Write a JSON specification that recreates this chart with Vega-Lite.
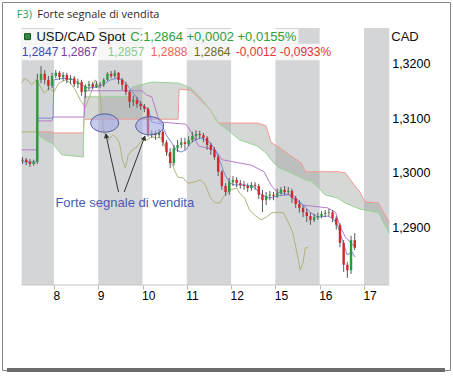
{
  "$schema": "https://vega.github.io/schema/vega-lite/v6.json",
  "width": 448,
  "height": 368,
  "autosize": {"type": "none"},
  "padding": {"left": 2, "top": 2, "right": 3, "bottom": 6},
  "background": "white",
  "config": {
    "view": {"stroke": "#858585", "strokeWidth": 1}
  },
  "datasets": {
    "bands": [
      {"h": -17.5, "h2": 0, "p": 1.2796, "p2": 1.3266},
      {"h": 24, "h2": 48, "p": 1.2796, "p2": 1.3266},
      {"h": 72, "h2": 96, "p": 1.2796, "p2": 1.3266},
      {"h": 120, "h2": 144, "p": 1.2796, "p2": 1.3266},
      {"h": 168, "h2": 181.7, "p": 1.2796, "p2": 1.3266}
    ],
    "legbg": [
      {"h": -17.5, "h2": 132.5, "p": 1.3237, "p2": 1.3264},
      {"h": -17.5, "h2": 154.7, "p": 1.3207, "p2": 1.3237}
    ],
    "baseline": [{"h": -17.5, "h2": 181.7, "p": 1.2796}],
    "frameb": [{"h": -25.43, "h2": 211.92, "p": 1.26406}],
    "ylabels": [
      {"h": 183.3, "p": 1.32, "txt": "1,3200"},
      {"h": 183.3, "p": 1.31, "txt": "1,3100"},
      {"h": 183.3, "p": 1.30, "txt": "1,3000"},
      {"h": 183.3, "p": 1.29, "txt": "1,2900"}
    ],
    "cloud": [
      {"h": -17.5, "a": 1.3076, "b": 1.3076},
      {"h": -9.0, "a": 1.3076, "b": 1.3076},
      {"h": -7.4, "a": 1.3067, "b": 1.3076},
      {"h": -2.6, "a": 1.3057, "b": 1.3076},
      {"h": -1.1, "a": 1.3055, "b": 1.3076},
      {"h": -0.5, "a": 1.3054, "b": 1.3074},
      {"h": 4.2, "a": 1.3034, "b": 1.3074},
      {"h": 15.9, "a": 1.3030, "b": 1.3074},
      {"h": 16.4, "a": 1.3140, "b": 1.3099},
      {"h": 21.2, "a": 1.3140, "b": 1.3099},
      {"h": 41.3, "a": 1.3140, "b": 1.3099},
      {"h": 42.4, "a": 1.3158, "b": 1.3099},
      {"h": 53.0, "a": 1.3167, "b": 1.3099},
      {"h": 67.3, "a": 1.3165, "b": 1.3099},
      {"h": 67.8, "a": 1.3165, "b": 1.3154},
      {"h": 74.2, "a": 1.3156, "b": 1.3152},
      {"h": 79.5, "a": 1.3138, "b": 1.3134},
      {"h": 84.8, "a": 1.3116, "b": 1.3116},
      {"h": 89.0, "a": 1.3092, "b": 1.3092},
      {"h": 95.4, "a": 1.3076, "b": 1.3092},
      {"h": 100.7, "a": 1.3061, "b": 1.3092},
      {"h": 110.2, "a": 1.3050, "b": 1.3092},
      {"h": 115.0, "a": 1.3037, "b": 1.3087},
      {"h": 117.6, "a": 1.3025, "b": 1.3057},
      {"h": 121.9, "a": 1.3010, "b": 1.3048},
      {"h": 127.2, "a": 1.3003, "b": 1.3035},
      {"h": 134.0, "a": 1.2992, "b": 1.3019},
      {"h": 136.2, "a": 1.2988, "b": 1.3003},
      {"h": 139.3, "a": 1.2986, "b": 1.3003},
      {"h": 143.1, "a": 1.2975, "b": 1.3003},
      {"h": 146.8, "a": 1.2961, "b": 1.3003},
      {"h": 153.6, "a": 1.2955, "b": 1.3003},
      {"h": 157.9, "a": 1.2946, "b": 1.3001},
      {"h": 162.7, "a": 1.2939, "b": 1.2979},
      {"h": 165.8, "a": 1.2935, "b": 1.2966},
      {"h": 168.5, "a": 1.2933, "b": 1.2948},
      {"h": 175.9, "a": 1.2928, "b": 1.2946},
      {"h": 181.7, "a": 1.2890, "b": 1.2910}
    ],
    "kijun": [
      {"h": -17.5, "p": 1.3043}, {"h": -9.5, "p": 1.3043}, {"h": -9.0, "p": 1.3096},
      {"h": -1.1, "p": 1.3096}, {"h": -0.5, "p": 1.3103}, {"h": 16.4, "p": 1.3103},
      {"h": 17.0, "p": 1.3151}, {"h": 47.7, "p": 1.3151}, {"h": 50.3, "p": 1.3143},
      {"h": 53.0, "p": 1.3140}, {"h": 57.2, "p": 1.3094}, {"h": 71.5, "p": 1.3090},
      {"h": 73.1, "p": 1.3083}, {"h": 78.4, "p": 1.3050}, {"h": 87.4, "p": 1.3043},
      {"h": 91.1, "p": 1.3025}, {"h": 107.0, "p": 1.3015}, {"h": 113.9, "p": 1.3003},
      {"h": 117.6, "p": 1.2979}, {"h": 120.8, "p": 1.2966}, {"h": 129.8, "p": 1.2959},
      {"h": 135.1, "p": 1.2942}, {"h": 148.3, "p": 1.2937}, {"h": 152.6, "p": 1.2929},
      {"h": 154.7, "p": 1.2906}, {"h": 157.9, "p": 1.2884}, {"h": 162.6, "p": 1.2867}
    ],
    "tenkan": [
      {"h": -17.5, "p": 1.3021}, {"h": -9.5, "p": 1.3021}, {"h": -9.0, "p": 1.3101},
      {"h": -0.5, "p": 1.3101}, {"h": 0, "p": 1.3171}, {"h": 5.3, "p": 1.3174},
      {"h": 10.6, "p": 1.3171}, {"h": 14.8, "p": 1.3162}, {"h": 18.5, "p": 1.3156},
      {"h": 23.8, "p": 1.3158}, {"h": 26.5, "p": 1.3162}, {"h": 30.7, "p": 1.3171},
      {"h": 34.4, "p": 1.3174}, {"h": 37.1, "p": 1.3171}, {"h": 39.7, "p": 1.3162},
      {"h": 42.4, "p": 1.3149}, {"h": 45.0, "p": 1.3138}, {"h": 47.7, "p": 1.3125},
      {"h": 51.4, "p": 1.3116}, {"h": 53.0, "p": 1.3094}, {"h": 58.3, "p": 1.3090},
      {"h": 60.9, "p": 1.3070}, {"h": 63.6, "p": 1.3057}, {"h": 66.2, "p": 1.3043},
      {"h": 68.9, "p": 1.3039}, {"h": 71.5, "p": 1.3043}, {"h": 74.2, "p": 1.3056},
      {"h": 76.8, "p": 1.3061}, {"h": 79.5, "p": 1.3065}, {"h": 82.1, "p": 1.3061},
      {"h": 84.8, "p": 1.3056}, {"h": 87.4, "p": 1.3043}, {"h": 90.1, "p": 1.3021},
      {"h": 92.7, "p": 1.2997}, {"h": 95.4, "p": 1.2982}, {"h": 98.0, "p": 1.2979},
      {"h": 103.3, "p": 1.2979}, {"h": 108.6, "p": 1.2975}, {"h": 112.3, "p": 1.2961},
      {"h": 116.6, "p": 1.2955}, {"h": 121.9, "p": 1.2959}, {"h": 127.2, "p": 1.2961},
      {"h": 130.9, "p": 1.2951}, {"h": 135.1, "p": 1.2942}, {"h": 138.8, "p": 1.2929},
      {"h": 143.0, "p": 1.2920}, {"h": 148.3, "p": 1.2922}, {"h": 151.0, "p": 1.2918},
      {"h": 153.6, "p": 1.2906}, {"h": 156.3, "p": 1.2878}, {"h": 158.9, "p": 1.2851},
      {"h": 161.6, "p": 1.2856}, {"h": 163.2, "p": 1.2847}
    ],
    "chikou": [
      {"h": -17.5, "p": 1.3165}, {"h": -15.9, "p": 1.3174}, {"h": -13.2, "p": 1.3167},
      {"h": -12.2, "p": 1.3162}, {"h": -9.5, "p": 1.3171}, {"h": -7.9, "p": 1.3162},
      {"h": -5.3, "p": 1.3147}, {"h": -2.6, "p": 1.3156}, {"h": 0, "p": 1.3149},
      {"h": 2.6, "p": 1.3165}, {"h": 6.4, "p": 1.3171}, {"h": 9.0, "p": 1.3165},
      {"h": 11.7, "p": 1.3152}, {"h": 14.3, "p": 1.3134}, {"h": 17.0, "p": 1.3120},
      {"h": 18.5, "p": 1.3134}, {"h": 20.1, "p": 1.3147}, {"h": 22.3, "p": 1.3171},
      {"h": 23.8, "p": 1.3162}, {"h": 24.9, "p": 1.3147}, {"h": 26.0, "p": 1.3107},
      {"h": 27.0, "p": 1.3076}, {"h": 29.7, "p": 1.3061}, {"h": 31.8, "p": 1.3070},
      {"h": 33.4, "p": 1.3067}, {"h": 35.5, "p": 1.3056}, {"h": 37.1, "p": 1.3025},
      {"h": 38.7, "p": 1.3010}, {"h": 40.3, "p": 1.3034}, {"h": 42.4, "p": 1.3043},
      {"h": 45.0, "p": 1.3048}, {"h": 47.7, "p": 1.3061}, {"h": 50.3, "p": 1.3061},
      {"h": 53.0, "p": 1.3067}, {"h": 55.6, "p": 1.3065}, {"h": 58.3, "p": 1.3065},
      {"h": 60.9, "p": 1.3043}, {"h": 63.6, "p": 1.3021}, {"h": 65.7, "p": 1.3003},
      {"h": 67.3, "p": 1.2993}, {"h": 69.9, "p": 1.2992}, {"h": 72.6, "p": 1.2982},
      {"h": 75.8, "p": 1.2984}, {"h": 79.5, "p": 1.2988}, {"h": 82.1, "p": 1.2979},
      {"h": 84.8, "p": 1.2955}, {"h": 87.4, "p": 1.2946}, {"h": 90.1, "p": 1.2946},
      {"h": 91.7, "p": 1.2957}, {"h": 95.4, "p": 1.2970}, {"h": 99.1, "p": 1.2973},
      {"h": 100.7, "p": 1.2964}, {"h": 103.3, "p": 1.2955}, {"h": 106.0, "p": 1.2933},
      {"h": 108.6, "p": 1.2924}, {"h": 112.3, "p": 1.2915}, {"h": 115.0, "p": 1.2920},
      {"h": 118.1, "p": 1.2928}, {"h": 121.9, "p": 1.2929}, {"h": 124.5, "p": 1.2928},
      {"h": 127.2, "p": 1.2909}, {"h": 129.3, "p": 1.2893}, {"h": 131.4, "p": 1.2860},
      {"h": 133.5, "p": 1.2823}, {"h": 135.1, "p": 1.2838}, {"h": 136.2, "p": 1.2864},
      {"h": 137.7, "p": 1.2864}
    ],
    "candles": [
      {"h": -17, "o": 1.3023, "c": 1.3025, "hi": 1.3030, "lo": 1.3017},
      {"h": -15, "o": 1.3025, "c": 1.3021, "hi": 1.3028, "lo": 1.3015},
      {"h": -13, "o": 1.3021, "c": 1.3017, "hi": 1.3026, "lo": 1.3012},
      {"h": -11, "o": 1.3017, "c": 1.3021, "hi": 1.3025, "lo": 1.3014},
      {"h": -9, "o": 1.3021, "c": 1.3171, "hi": 1.3182, "lo": 1.3017},
      {"h": -7, "o": 1.3171, "c": 1.3182, "hi": 1.3196, "lo": 1.3165},
      {"h": -5, "o": 1.3182, "c": 1.3171, "hi": 1.3189, "lo": 1.3163},
      {"h": -3, "o": 1.3171, "c": 1.3160, "hi": 1.3178, "lo": 1.3152},
      {"h": -1, "o": 1.3160, "c": 1.3178, "hi": 1.3184, "lo": 1.3156},
      {"h": 1, "o": 1.3178, "c": 1.3184, "hi": 1.3189, "lo": 1.3174},
      {"h": 3, "o": 1.3184, "c": 1.3176, "hi": 1.3187, "lo": 1.3171},
      {"h": 5, "o": 1.3176, "c": 1.3180, "hi": 1.3185, "lo": 1.3169},
      {"h": 7, "o": 1.3180, "c": 1.3171, "hi": 1.3184, "lo": 1.3165},
      {"h": 9, "o": 1.3171, "c": 1.3174, "hi": 1.3180, "lo": 1.3163},
      {"h": 11, "o": 1.3174, "c": 1.3163, "hi": 1.3178, "lo": 1.3158},
      {"h": 13, "o": 1.3163, "c": 1.3167, "hi": 1.3173, "lo": 1.3156},
      {"h": 15, "o": 1.3167, "c": 1.3149, "hi": 1.3171, "lo": 1.3142},
      {"h": 17, "o": 1.3149, "c": 1.3160, "hi": 1.3163, "lo": 1.3138},
      {"h": 19, "o": 1.3160, "c": 1.3163, "hi": 1.3169, "lo": 1.3152},
      {"h": 21, "o": 1.3163, "c": 1.3158, "hi": 1.3167, "lo": 1.3154},
      {"h": 23, "o": 1.3158, "c": 1.3163, "hi": 1.3169, "lo": 1.3156},
      {"h": 25, "o": 1.3163, "c": 1.3162, "hi": 1.3167, "lo": 1.3156},
      {"h": 27, "o": 1.3162, "c": 1.3171, "hi": 1.3174, "lo": 1.3158},
      {"h": 29, "o": 1.3171, "c": 1.3182, "hi": 1.3185, "lo": 1.3169},
      {"h": 31, "o": 1.3182, "c": 1.3178, "hi": 1.3187, "lo": 1.3174},
      {"h": 33, "o": 1.3178, "c": 1.3184, "hi": 1.3189, "lo": 1.3174},
      {"h": 35, "o": 1.3184, "c": 1.3171, "hi": 1.3185, "lo": 1.3163},
      {"h": 37, "o": 1.3171, "c": 1.3162, "hi": 1.3174, "lo": 1.3152},
      {"h": 39, "o": 1.3162, "c": 1.3149, "hi": 1.3167, "lo": 1.3143},
      {"h": 41, "o": 1.3149, "c": 1.3131, "hi": 1.3152, "lo": 1.3120},
      {"h": 43, "o": 1.3131, "c": 1.3134, "hi": 1.3142, "lo": 1.3123},
      {"h": 45, "o": 1.3134, "c": 1.3127, "hi": 1.3140, "lo": 1.3120},
      {"h": 47, "o": 1.3127, "c": 1.3123, "hi": 1.3132, "lo": 1.3116},
      {"h": 49, "o": 1.3123, "c": 1.3118, "hi": 1.3127, "lo": 1.3112},
      {"h": 51, "o": 1.3118, "c": 1.3072, "hi": 1.3121, "lo": 1.3067},
      {"h": 53, "o": 1.3072, "c": 1.3074, "hi": 1.3079, "lo": 1.3065},
      {"h": 55, "o": 1.3074, "c": 1.3070, "hi": 1.3078, "lo": 1.3061},
      {"h": 57, "o": 1.3070, "c": 1.3076, "hi": 1.3081, "lo": 1.3065},
      {"h": 59, "o": 1.3076, "c": 1.3057, "hi": 1.3079, "lo": 1.3050},
      {"h": 61, "o": 1.3057, "c": 1.3039, "hi": 1.3061, "lo": 1.3032},
      {"h": 63, "o": 1.3039, "c": 1.3019, "hi": 1.3046, "lo": 1.3010},
      {"h": 65, "o": 1.3019, "c": 1.3046, "hi": 1.3052, "lo": 1.3014},
      {"h": 67, "o": 1.3046, "c": 1.3052, "hi": 1.3061, "lo": 1.3039},
      {"h": 69, "o": 1.3052, "c": 1.3057, "hi": 1.3065, "lo": 1.3046},
      {"h": 71, "o": 1.3057, "c": 1.3054, "hi": 1.3065, "lo": 1.3043},
      {"h": 73, "o": 1.3054, "c": 1.3061, "hi": 1.3068, "lo": 1.3050},
      {"h": 75, "o": 1.3061, "c": 1.3068, "hi": 1.3076, "lo": 1.3057},
      {"h": 77, "o": 1.3068, "c": 1.3072, "hi": 1.3079, "lo": 1.3061},
      {"h": 79, "o": 1.3072, "c": 1.3070, "hi": 1.3078, "lo": 1.3063},
      {"h": 81, "o": 1.3070, "c": 1.3065, "hi": 1.3074, "lo": 1.3057},
      {"h": 83, "o": 1.3065, "c": 1.3052, "hi": 1.3068, "lo": 1.3043},
      {"h": 85, "o": 1.3052, "c": 1.3043, "hi": 1.3056, "lo": 1.3034},
      {"h": 87, "o": 1.3043, "c": 1.3030, "hi": 1.3048, "lo": 1.3025},
      {"h": 89, "o": 1.3030, "c": 1.3003, "hi": 1.3034, "lo": 1.2995},
      {"h": 91, "o": 1.3003, "c": 1.2977, "hi": 1.3006, "lo": 1.2970},
      {"h": 93, "o": 1.2977, "c": 1.2966, "hi": 1.2982, "lo": 1.2959},
      {"h": 95, "o": 1.2966, "c": 1.2984, "hi": 1.2992, "lo": 1.2961},
      {"h": 97, "o": 1.2984, "c": 1.2988, "hi": 1.2995, "lo": 1.2977},
      {"h": 99, "o": 1.2988, "c": 1.2982, "hi": 1.2993, "lo": 1.2975},
      {"h": 101, "o": 1.2982, "c": 1.2979, "hi": 1.2988, "lo": 1.2972},
      {"h": 103, "o": 1.2979, "c": 1.2977, "hi": 1.2986, "lo": 1.2970},
      {"h": 105, "o": 1.2977, "c": 1.2973, "hi": 1.2982, "lo": 1.2966},
      {"h": 107, "o": 1.2973, "c": 1.2979, "hi": 1.2984, "lo": 1.2968},
      {"h": 109, "o": 1.2979, "c": 1.2977, "hi": 1.2984, "lo": 1.2970},
      {"h": 111, "o": 1.2977, "c": 1.2961, "hi": 1.2981, "lo": 1.2953},
      {"h": 113, "o": 1.2961, "c": 1.2951, "hi": 1.2970, "lo": 1.2929},
      {"h": 115, "o": 1.2951, "c": 1.2959, "hi": 1.2966, "lo": 1.2942},
      {"h": 117, "o": 1.2959, "c": 1.2961, "hi": 1.2968, "lo": 1.2951},
      {"h": 119, "o": 1.2961, "c": 1.2959, "hi": 1.2966, "lo": 1.2951},
      {"h": 121, "o": 1.2959, "c": 1.2964, "hi": 1.2972, "lo": 1.2955},
      {"h": 123, "o": 1.2964, "c": 1.2970, "hi": 1.2975, "lo": 1.2961},
      {"h": 125, "o": 1.2970, "c": 1.2966, "hi": 1.2977, "lo": 1.2961},
      {"h": 127, "o": 1.2966, "c": 1.2968, "hi": 1.2975, "lo": 1.2961},
      {"h": 129, "o": 1.2968, "c": 1.2955, "hi": 1.2972, "lo": 1.2946},
      {"h": 131, "o": 1.2955, "c": 1.2944, "hi": 1.2959, "lo": 1.2937},
      {"h": 133, "o": 1.2944, "c": 1.2937, "hi": 1.2951, "lo": 1.2928},
      {"h": 135, "o": 1.2937, "c": 1.2929, "hi": 1.2942, "lo": 1.2920},
      {"h": 137, "o": 1.2929, "c": 1.2922, "hi": 1.2935, "lo": 1.2911},
      {"h": 139, "o": 1.2922, "c": 1.2915, "hi": 1.2928, "lo": 1.2906},
      {"h": 141, "o": 1.2915, "c": 1.2920, "hi": 1.2926, "lo": 1.2911},
      {"h": 143, "o": 1.2920, "c": 1.2922, "hi": 1.2928, "lo": 1.2915},
      {"h": 145, "o": 1.2922, "c": 1.2926, "hi": 1.2931, "lo": 1.2918},
      {"h": 147, "o": 1.2926, "c": 1.2928, "hi": 1.2933, "lo": 1.2920},
      {"h": 149, "o": 1.2928, "c": 1.2929, "hi": 1.2935, "lo": 1.2922},
      {"h": 151, "o": 1.2929, "c": 1.2918, "hi": 1.2933, "lo": 1.2911},
      {"h": 153, "o": 1.2918, "c": 1.2906, "hi": 1.2922, "lo": 1.2897},
      {"h": 155, "o": 1.2906, "c": 1.2873, "hi": 1.2909, "lo": 1.2865},
      {"h": 157, "o": 1.2873, "c": 1.2833, "hi": 1.2878, "lo": 1.2820},
      {"h": 159, "o": 1.2833, "c": 1.2823, "hi": 1.2838, "lo": 1.2809},
      {"h": 161, "o": 1.2823, "c": 1.2878, "hi": 1.2886, "lo": 1.2816},
      {"h": 163, "o": 1.2878, "c": 1.2864, "hi": 1.2891, "lo": 1.2860}
    ],
    "ellipses": [{"h": 27.5, "p": 1.3092}, {"h": 51.9, "p": 1.3087}],
    "arrows": [
      {"h": 35.0, "p": 1.2966, "h2": 28.1, "p2": 1.3072},
      {"h": 38.1, "p": 1.2966, "h2": 49.3, "p2": 1.3068}
    ],
    "titles": [
      {"h": -20.1, "p": 1.3290, "txt": "F3)", "k": "f3"},
      {"h": -9.0, "p": 1.3290, "txt": "Forte segnale di vendita", "k": "ttl"}
    ],
    "legend1": [
      {"h": -9.5, "p": 1.3250, "txt": "USD/CAD Spot", "k": "blk"},
      {"h": 41.3, "p": 1.3250, "txt": "C:1,2864 +0,0002 +0,0155%", "k": "close"},
      {"h": 182.8, "p": 1.3249, "txt": "CAD", "k": "blk"}
    ],
    "legend2": [
      {"h": -17.5, "p": 1.3221, "txt": "1,2847", "k": "tenkan"},
      {"h": 3.7, "p": 1.3221, "txt": "1,2867", "k": "kijun"},
      {"h": 29.1, "p": 1.3221, "txt": "1,2857", "k": "spanA"},
      {"h": 52.5, "p": 1.3221, "txt": "1,2888", "k": "spanB"},
      {"h": 75.8, "p": 1.3221, "txt": "1,2864", "k": "chikou"},
      {"h": 98.5, "p": 1.3221, "txt": "-0,0012 -0,0933%", "k": "change"}
    ],
    "note": [{"h": 38.4, "p": 1.2946, "txt": "Forte segnale di vendita", "k": "note"}],
    "marker": [{"h": -14.3, "p": 1.3250}]
  },
  "encoding": {
    "x": {
      "field": "h", "type": "quantitative",
      "scale": {"domain": [-25.43, 211.92], "nice": false, "zero": false},
      "axis": {
        "values": [0, 24, 48, 72, 96, 120, 144, 168],
        "labelExpr": "['8','9','10','11','12','15','16','17'][round(datum.value/24)]",
        "title": null, "grid": false, "domain": false, "offset": -85,
        "tickSize": 4, "tickColor": "#b8b8b8", "labelAlign": "left", "labelOffset": -1,
        "labelPadding": 1, "labelFontSize": 12, "labelColor": "#000000", "labelFont": "Liberation Sans"
      }
    },
    "y": {
      "field": "p", "type": "quantitative",
      "scale": {"domain": [1.26406, 1.33133], "nice": false, "zero": false},
      "axis": null
    }
  },
  "layer": [
    {"data": {"name": "bands"}, "mark": {"type": "rect", "color": "#d4d5d7"},
     "encoding": {"x2": {"field": "h2"}, "y2": {"field": "p2"}}},
    {"data": {"name": "baseline"}, "mark": {"type": "rule", "color": "#c4c4c4"},
     "encoding": {"x2": {"field": "h2"}}},
    {"data": {"name": "legbg"}, "mark": {"type": "rect", "color": "#ffffff", "opacity": 0.8},
     "encoding": {"x2": {"field": "h2"}, "y2": {"field": "p2"}}},
    {"data": {"name": "cloud"}, "mark": {"type": "area", "color": "#9ca29c", "opacity": 0.42},
     "encoding": {"y": {"field": "a", "type": "quantitative", "axis": null}, "y2": {"field": "b"}}},
    {"data": {"name": "cloud"}, "mark": {"type": "line", "color": "#f29a92", "strokeWidth": 1},
     "encoding": {"y": {"field": "b", "type": "quantitative", "axis": null}}},
    {"data": {"name": "cloud"}, "mark": {"type": "line", "color": "#98d494", "strokeWidth": 1},
     "encoding": {"y": {"field": "a", "type": "quantitative", "axis": null}}},
    {"data": {"name": "chikou"}, "mark": {"type": "line", "color": "#b3b27a", "strokeWidth": 1}},
    {"data": {"name": "kijun"}, "mark": {"type": "line", "color": "#b67ccc", "strokeWidth": 1}},
    {"data": {"name": "tenkan"}, "mark": {"type": "line", "color": "#7a88d6", "strokeWidth": 1}},
    {"data": {"name": "candles"}, "mark": {"type": "rule", "color": "#5a5a5a", "strokeWidth": 1},
     "encoding": {"y": {"field": "lo", "type": "quantitative", "axis": null}, "y2": {"field": "hi"}}},
    {"data": {"name": "candles"}, "mark": {"type": "bar", "width": 2.4},
     "encoding": {
       "y": {"field": "o", "type": "quantitative", "axis": null}, "y2": {"field": "c"},
       "color": {"condition": {"test": "datum.c >= datum.o", "value": "#2c9a3c"}, "value": "#d3272d"}
     }},
    {"data": {"name": "ellipses"},
     "mark": {"type": "point", "shape": "M -1 0 A 1 0.65 0 1 0 1 0 A 1 0.65 0 1 0 -1 0 Z", "size": 784,
              "filled": true, "fill": "#a1a9e2", "fillOpacity": 0.6, "stroke": "#4f5a9c", "strokeWidth": 1, "opacity": 1}},
    {"data": {"name": "arrows"}, "mark": {"type": "rule", "color": "#333333", "strokeWidth": 1},
     "encoding": {"x2": {"field": "h2"}, "y2": {"field": "p2"}}},
    {"data": {"values": [{"h": 28.3, "p": 1.3069}]},
     "mark": {"type": "point", "shape": "triangle-up", "size": 30, "filled": true, "color": "#333333", "angle": -12, "opacity": 1}},
    {"data": {"values": [{"h": 49.0, "p": 1.3065}]},
     "mark": {"type": "point", "shape": "triangle-up", "size": 30, "filled": true, "color": "#333333", "angle": 21, "opacity": 1}},
    {"data": {"name": "ylabels"},
     "mark": {"type": "text", "align": "left", "baseline": "middle", "font": "Liberation Sans", "fontSize": 12.5, "color": "#000000"},
     "encoding": {"text": {"field": "txt"}}},
    {"data": {"name": "note"},
     "mark": {"type": "text", "align": "center", "baseline": "middle", "font": "Liberation Sans", "fontSize": 13},
     "encoding": {"text": {"field": "txt"},
       "color": {"field": "k", "type": "nominal", "legend": null,
         "scale": {"domain": ["f3", "ttl", "blk", "close", "tenkan", "kijun", "spanA", "spanB", "chikou", "change", "note"],
                   "range": ["#2f9e62", "#2b2b2b", "#111111", "#2f9e3f", "#3a4db0", "#7a3aa0", "#86cc8c", "#ef6257", "#6e6a22", "#e5303a", "#4a5bb3"]}}}},
    {"data": {"name": "titles"},
     "mark": {"type": "text", "align": "left", "baseline": "middle", "font": "Open Sans", "fontSize": 11},
     "encoding": {"text": {"field": "txt"},
       "color": {"field": "k", "type": "nominal", "legend": null,
         "scale": {"domain": ["f3", "ttl", "blk", "close", "tenkan", "kijun", "spanA", "spanB", "chikou", "change", "note"],
                   "range": ["#2f9e62", "#2b2b2b", "#111111", "#2f9e3f", "#3a4db0", "#7a3aa0", "#86cc8c", "#ef6257", "#6e6a22", "#e5303a", "#4a5bb3"]}}}},
    {"data": {"name": "legend1"},
     "mark": {"type": "text", "align": "left", "baseline": "middle", "font": "Liberation Sans", "fontSize": 13},
     "encoding": {"text": {"field": "txt"},
       "color": {"field": "k", "type": "nominal", "legend": null,
         "scale": {"domain": ["f3", "ttl", "blk", "close", "tenkan", "kijun", "spanA", "spanB", "chikou", "change", "note"],
                   "range": ["#2f9e62", "#2b2b2b", "#111111", "#2f9e3f", "#3a4db0", "#7a3aa0", "#86cc8c", "#ef6257", "#6e6a22", "#e5303a", "#4a5bb3"]}}}},
    {"data": {"name": "legend2"},
     "mark": {"type": "text", "align": "left", "baseline": "middle", "font": "Liberation Sans", "fontSize": 12},
     "encoding": {"text": {"field": "txt"},
       "color": {"field": "k", "type": "nominal", "legend": null,
         "scale": {"domain": ["f3", "ttl", "blk", "close", "tenkan", "kijun", "spanA", "spanB", "chikou", "change", "note"],
                   "range": ["#2f9e62", "#2b2b2b", "#111111", "#2f9e3f", "#3a4db0", "#7a3aa0", "#86cc8c", "#ef6257", "#6e6a22", "#e5303a", "#4a5bb3"]}}}},
    {"data": {"name": "marker"},
     "mark": {"type": "point", "shape": "square", "size": 36, "filled": true, "fill": "#2e8b3e", "stroke": "#1d4f24", "strokeWidth": 1, "opacity": 1}},
    {"data": {"name": "frameb"}, "mark": {"type": "rule", "color": "#6b6b6b", "strokeWidth": 4},
     "encoding": {"x2": {"field": "h2"}}}
  ]
}
